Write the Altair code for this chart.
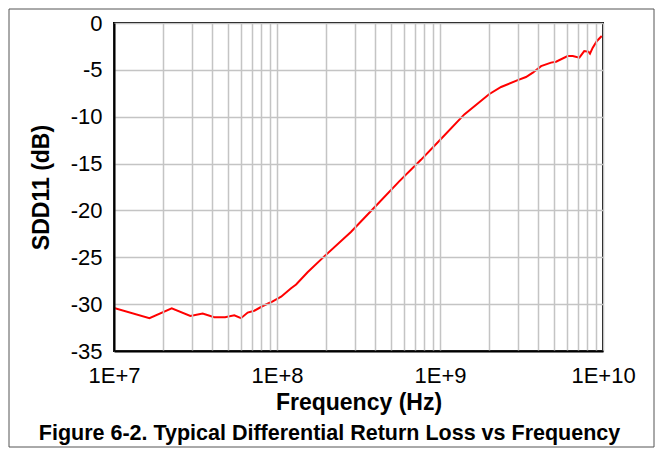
import altair as alt
import pandas as pd

# Curve (frequency in Hz, SDD11 in dB)
freq_hz = [1.0e7, 1.65e7, 2.26e7, 2.94e7, 3.50e7, 4.12e7, 4.80e7, 5.47e7, 6.01e7,
           6.61e7, 7.26e7, 8.17e7, 9.18e7, 1.06e8, 1.22e8, 1.31e8, 1.54e8, 1.95e8,
           2.84e8, 4.05e8, 5.62e8, 7.64e8, 1.01e9, 1.41e9, 2.00e9, 2.37e9, 3.00e9,
           3.37e9, 3.71e9, 4.17e9, 4.80e9, 5.15e9, 6.07e9, 6.52e9, 7.16e9, 7.67e9,
           8.13e9, 8.32e9, 8.65e9, 9.18e9, 9.82e9]
sdd11_db = [-30.4, -31.5, -30.45, -31.27, -31.0, -31.4, -31.4, -31.2, -31.5,
            -30.9, -30.7, -30.2, -29.8, -29.2, -28.3, -27.9, -26.6, -24.9,
            -22.3, -19.5, -16.9, -14.6, -12.4, -9.75, -7.6, -6.83, -6.1,
            -5.76, -5.3, -4.6, -4.23, -4.13, -3.52, -3.52, -3.7, -3.0,
            -3.06, -3.27, -2.63, -1.92, -1.39]

x_grid = [k * 10 ** d for d in (7, 8, 9) for k in range(1, 10)] + [1e10]
y_ticks = [-35, -30, -25, -20, -15, -10, -5, 0]
fig_title = ["Figure 6-2. Typical Differential Return Loss vs Frequency"]

FONT = "Liberation Sans"

df = pd.DataFrame({"f": freq_hz, "db": sdd11_db})

line = alt.Chart(df).mark_line(color="#ff0000", strokeWidth=2, clip=True).encode(
    x=alt.X("f:Q",
            scale=alt.Scale(type="log", domain=[1e7, 1e10], nice=False),
            axis=alt.Axis(values=x_grid,
                          labelExpr="abs(log(datum.value)/LN10 - round(log(datum.value)/LN10)) < 0.001 ? '1E+' + round(log(datum.value)/LN10) : ''",
                          labelOverlap=False, labelFlush=False,
                          ticks=False, tickSize=0, labelPadding=14,
                          title="Frequency (Hz)", titlePadding=5,
                          domain=True, domainColor="black", domainWidth=2,
                          zindex=1)),
    y=alt.Y("db:Q",
            scale=alt.Scale(domain=[-35, 0], nice=False),
            axis=alt.Axis(values=y_ticks, labelExpr="'' + datum.value",
                          ticks=False, tickSize=0, labelPadding=12,
                          title="SDD11 (dB)", titlePadding=17,
                          domain=True, domainColor="black", domainWidth=2,
                          zindex=1)),
)

one = pd.DataFrame({"t": fig_title})

frame = alt.Chart(one).mark_rect(filled=False, stroke="#555555", strokeWidth=1).encode(
    x=alt.value(-105), x2=alt.value(540), y=alt.value(-14), y2=alt.value(424)
)

title_txt = alt.Chart(one).mark_text(
    font=FONT, fontSize=21.5, fontWeight="bold", color="black",
    align="center", baseline="alphabetic"
).encode(x=alt.value(215.5), y=alt.value(417), text="t:N")

chart = alt.layer(frame, line, title_txt).properties(
    width=489, height=328, padding=0
).configure_view(
    stroke="black", strokeWidth=2
).configure_axis(
    labelFont=FONT, labelFontSize=22, labelColor="black",
    titleFont=FONT, titleFontSize=23, titleFontWeight="bold", titleColor="black",
    gridColor="#c4c4c4", gridWidth=1.5
)

chart.save("out.html", embed_options={"renderer": "svg", "actions": False})
